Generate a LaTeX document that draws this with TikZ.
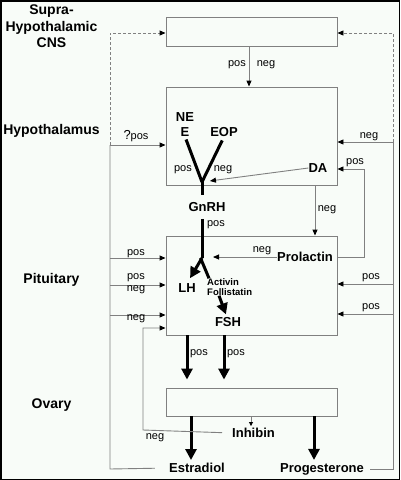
\documentclass[tikz,border=0pt]{standalone}
\usepackage{fontspec}
\setmainfont{Liberation Sans}
\usepackage{tikz}
\usetikzlibrary{arrows.meta,positioning,calc}
\definecolor{paper}{RGB}{248,252,248}
\definecolor{wirecol}{RGB}{128,128,128}
\tikzset{
  organ/.style={draw=wirecol,line width=0.9pt,minimum width=171pt,inner sep=0pt},
  region/.style={font=\fontsize{14}{16.5}\selectfont\bfseries,align=center,inner sep=0pt},
  horm/.style={font=\fontsize{13}{15}\selectfont\bfseries,inner sep=0pt},
  minor/.style={font=\fontsize{9.5}{10}\selectfont\bfseries,inner sep=0pt,align=left},
  lbl/.style={font=\fontsize{11}{12}\selectfont,inner sep=0pt},
  wire/.style={draw=wirecol,line width=0.9pt},
  feed/.style={wire,-{Triangle[black,length=6pt,width=5pt]}},
  dotted feed/.style={feed,dash pattern=on 3pt off 2pt},
  heavy/.style={line width=3pt},
  heavyarr/.style={heavy,-{Triangle[length=11pt,width=11pt]}},
}
\begin{document}
\begin{tikzpicture}[x=1pt,y=-1pt]
\useasboundingbox(0,0)rectangle(400,480);
\fill[paper](0,0)rectangle(400,480);
\draw[line width=1.5pt](0.75,0.75)rectangle(399.25,479.25);

% organ boxes
\node[organ,minimum height=29pt](cnsbox) at (251.5,31.5){};
\node[organ,minimum height=98pt](hypbox) at (251.5,136){};
\node[organ,minimum height=99pt](pitbox) at (251.5,285.5){};
\node[organ,minimum height=28pt](ovabox) at (251.5,402){};

% level names
\node[region](cnsname) at (51.5,26.5){Supra-\\Hypothalamic\\CNS};
\node[region](hypname) at (51.5,131){Hypothalamus};
\node[region](pitname) at (51.5,280){Pituitary};
\node[region](ovaname) at (51.5,405){Ovary};

% hormones
\node[horm,align=center](ne) at (185,124.5){NE\\E};
\node[horm](eop) at (224,132){EOP};
\node[horm](da) at (318,168){DA};
\node[horm,inner ysep=7pt](gnrh) at (207,207){GnRH};
\node[horm](prl) at (305,257){Prolactin};
\node[horm](lh) at (187,288){LH};
\node[minor,anchor=west](act) at (207,287){Activin\\Follistatin};
\node[horm](fsh) at (228,322){FSH};
\node[horm](inh) at (253.5,433){Inhibin};
\node[horm](est) at (197,468){Estradiol};
\node[horm](prog) at (322,469){Progesterone};

\coordinate(j1) at (202,182);
\coordinate(j2) at (202,258);
\coordinate(lt) at (110,33);
\coordinate(lq) at (110,145);
\coordinate(lb) at (110,469);
\coordinate(rt) at (393,33);
\coordinate(rn) at (393,142);
\coordinate(rb) at (393,469);
\coordinate(pc) at (364,169);
\coordinate(ic) at (143,430);
\coordinate(ict) at (143,328);
\coordinate(hn) at (315,185);
\foreach \y[count=\i] in {258,285,315} \coordinate(lp\i) at (110,\y);
\foreach \y[count=\i] in {284,314} \coordinate(rp\i) at (393,\y);

% GnRH pathway
\draw[heavy,shorten <=3pt](ne.south)--(j1);
\draw[heavy,shorten <=4pt](eop.south)--(j1);
\draw[heavy](j1)--(gnrh.north -| j1);
\draw[heavy](gnrh.south -| j1)--(j2);
\draw[heavyarr,shorten >=6pt](j2)--(lh.north);
\draw[heavy]([xshift=-1.5pt]j2)--([xshift=2pt]act.north west);
\draw[heavyarr,shorten >=3pt]([xshift=12pt]act.south west)--([xshift=-1pt]fsh.north);
\draw[feed,shorten >=8pt](da.west)--(j1);
\draw[feed,shorten >=11pt](prl.west)--(prl.west -| j2);

% between the boxes
\draw[feed]($(cnsbox.south)+(-2.5,0)$)--($(hypbox.north)+(-2.5,0)$);
\draw[feed](hn)--(hn |- pitbox.north);
\draw[heavyarr,shorten >=8pt](lh |- pitbox.south)--(lh |- ovabox.north);
\draw[heavyarr,shorten >=8pt]($(fsh |- pitbox.south)+(-4,0)$)--($(fsh |- ovabox.north)+(-4,0)$);
\draw[heavyarr,shorten >=3pt]($(est.north |- ovabox.south)+(-6,0)$)--($(est.north)+(-6,0)$);
\draw[heavyarr,shorten >=3pt]($(prog.north |- ovabox.south)+(-8,0)$)--($(prog.north)+(-8,0)$);
\draw[wire,-{Triangle[black,length=4pt,width=4pt]},shorten >=2pt]($(ovabox.south -| inh)+(-2.5,0)$)--($(inh.north)+(-2.5,0)$);

% left feedback
\draw[wire,shorten <=14pt](est.west)--(lb)--(lq);
\draw[dotted feed](lq)--(lt)--(lt -| cnsbox.west);
\draw[feed](lq)--(lq -| hypbox.west);
\foreach \i in {1,2,3} \draw[feed](lp\i)--(lp\i -| pitbox.west);
\draw[feed,shorten <=10pt](inh.west)--(ic)--(ict)--(ict -| pitbox.west);

% right feedback
\draw[wire,shorten <=6pt](prog.east)--(rb)--(rn);
\draw[dotted feed](rn)--(rt)--(rt -| cnsbox.east);
\draw[feed](rn)--(rn -| hypbox.east);
\foreach \i in {1,2} \draw[feed](rp\i)--(rp\i -| pitbox.east);
\draw[feed](prl.east -| pitbox.east)--(prl.east -| pc)--(pc)--(pc -| hypbox.east);

% signs
\node[lbl](cnspos) at (237,65){pos};
\node[lbl](cnsneg) at (266,65){neg};
\node[lbl](qpos) at (136,136){{\fontsize{13}{15}\selectfont ?}pos};
\node[lbl](vpos) at (183,170){pos};
\node[lbl](vneg) at (223,170){neg};
\node[lbl](gpos) at (216,225){pos};
\node[lbl](hneg) at (327,210){neg};
\node[lbl](rneg) at (369,137){neg};
\node[lbl](dpos) at (355,163){pos};
\node[lbl](prlneg) at (262,251){neg};
\node[lbl](lpos1) at (136,254){pos};
\node[lbl](lpos2) at (136,278){pos};
\node[lbl](lneg2) at (136,290){neg};
\node[lbl](lneg3) at (136,319){neg};
\node[lbl](rpos1) at (371,278){pos};
\node[lbl](rpos2) at (371,308){pos};
\node[lbl](opos1) at (199,354){pos};
\node[lbl](opos2) at (236,354){pos};
\node[lbl](ineg) at (155,438){neg};
\end{tikzpicture}
\end{document}
